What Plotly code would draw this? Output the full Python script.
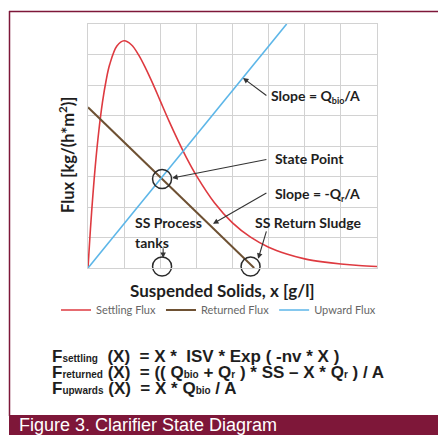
import plotly.graph_objects as go

# ---- data (grid units) ----
settling_x = [0, 0.05, 0.1, 0.2, 0.3, 0.4, 0.5, 0.6, 0.8, 1.0, 1.2, 1.4, 1.6, 1.8, 2.0,
              2.25, 2.5, 2.75, 3.0, 3.5, 4.0, 4.5, 5.0, 5.5, 6.0, 6.5, 7.0, 7.5, 8.0]
settling_y = [0, 0.96, 1.83, 3.32, 4.50, 5.43, 6.14, 6.67, 7.28, 7.45, 7.32, 6.99, 6.54, 6.03, 5.48,
              4.80, 4.16, 3.56, 3.03, 2.14, 1.48, 1.01, 0.68, 0.46, 0.30, 0.20, 0.13, 0.08, 0.05]
returned_x = [0, 4.6]
returned_y = [5.27, 0]
upward_x = [0, 5.5]
upward_y = [0, 8]
circle_x = [2.05, 2.05, 4.5]
circle_y = [2.92, 0.05, 0.05]
series_names = ["Settling Flux", "Returned Flux", "Upward Flux"]

RED = "#DE3A40"
BROWN = "#6E5133"
BLUE = "#5DB6E8"
MAROON = "#7E1739"
TXT = "#1E1E1E"

W, H = 438, 435
L, R, T, B = 88, 377, 24, 268


def px_x(p):
    return (p - L) / (R - L)


def px_y(p):
    return (B - p) / (B - T)


fig = go.Figure()
fig.add_trace(go.Scatter(x=settling_x, y=settling_y, mode="lines", name=series_names[0],
                         line=dict(color=RED, width=1.6, shape="spline")))
fig.add_trace(go.Scatter(x=returned_x, y=returned_y, mode="lines", name=series_names[1],
                         line=dict(color=BROWN, width=2)))
fig.add_trace(go.Scatter(x=upward_x, y=upward_y, mode="lines", name=series_names[2],
                         line=dict(color=BLUE, width=1.6)))
fig.add_trace(go.Scatter(x=circle_x, y=circle_y, mode="markers", showlegend=False,
                         cliponaxis=False,
                         marker=dict(symbol="circle-open", size=19, color="#2a2a2a",
                                     line=dict(width=1.5, color="#2a2a2a"))))

annos = []
font_lbl = dict(family="Lato", size=14, color=TXT)


def txt(text, x, y, size=14, xanchor="left", yanchor="middle", **kw):
    f = dict(font_lbl)
    f["size"] = size
    f.update(kw.pop("font", {}))
    annos.append(dict(text=text, x=px_x(x), y=px_y(y), xref="paper", yref="paper",
                      xanchor=xanchor, yanchor=yanchor, showarrow=False, font=f, **kw))


def arrow(hx, hy, tx, ty):
    annos.append(dict(text="", x=hx, y=hy, xref="x", yref="y", ax=tx, ay=ty,
                      axref="x", ayref="y", showarrow=True, arrowhead=2, arrowsize=1,
                      arrowwidth=1.1, arrowcolor="#333333"))


def sub(s, size=9):
    return f"<sub><span style='font-size:{size}px'>{s}</span></sub>"


def low(s, size=10):
    # small subscript-like text kept on the baseline (tight line spacing as in the figure)
    return f"<span style='font-size:{size}px'>{s}</span>"


txt("<b>Slope = Q" + sub("bio") + "/A</b>", 269, 96)
txt("<b>State Point</b>", 273, 158)
txt("<b>Slope = -Q" + sub("r") + "/A</b>", 273, 194)
txt("<b>SS Process</b>", 133, 222)
txt("<b>tanks</b>", 133, 242)
txt("<b>SS Return Sludge</b>", 253, 222)

arrow(4.29, 6.23, 4.98, 5.62)
arrow(2.33, 2.95, 4.98, 3.57)
arrow(3.46, 1.45, 4.98, 2.49)
arrow(2.08, 0.33, 2.08, 0.7)
arrow(4.71, 0.3, 4.95, 1.25)

# axis titles
txt("<b>Flux [kg/(h*m<sup>2</sup>)]</b>", 67, 155, size=16.5, xanchor="center", textangle=-90)
txt("<b>Suspended Solids, x [g/l]</b>", 222, 290, size=17, xanchor="center")

# equations
eq_font = dict(family="Liberation Sans", color=TXT)
txt("<b>F" + low("settling") + "  (X)  = X *  ISV * Exp ( -nv * X )</b>", 50, 356,
    size=17, font=eq_font)
txt("<b>F" + low("returned") + " (X)  = (( Q" + low("bio") + " + Q" + low("r")
    + " ) * SS – X * Q" + low("r") + " ) / A</b>",
    50, 372, size=17, font=eq_font)
txt("<b>F" + low("upwards") + " (X)  = X * Q" + low("bio") + " / A</b>", 50, 388,
    size=17, font=eq_font)

# caption
txt("Figure 3. Clarifier State Diagram", 17, 425, size=18,
    font=dict(family="Liberation Sans", color="white"))

shapes = [
    dict(type="line", xref="paper", yref="paper", x0=px_x(9.5), x1=px_x(9.5),
         y0=px_y(11), y1=px_y(416), line=dict(color=MAROON, width=1.5), layer="below"),
    dict(type="line", xref="paper", yref="paper", x0=px_x(9), x1=px_x(440),
         y0=px_y(11.5), y1=px_y(11.5), line=dict(color=MAROON, width=1.5), layer="below"),
    dict(type="rect", xref="paper", yref="paper", x0=px_x(9), x1=px_x(440),
         y0=px_y(415), y1=px_y(437), fillcolor=MAROON, line=dict(width=0), layer="below"),
]

axis_common = dict(range=[0, 8], dtick=1, showgrid=True, gridcolor="#D2D2D2", gridwidth=1,
                   zeroline=False, showticklabels=False, ticks="", showline=True,
                   linecolor="#D2D2D2", linewidth=1, mirror=True, fixedrange=True)

fig.update_layout(
    width=W, height=H,
    margin=dict(l=L, r=W - R, t=T, b=H - B, pad=0),
    paper_bgcolor="white", plot_bgcolor="white",
    xaxis=axis_common, yaxis=axis_common,
    annotations=annos, shapes=shapes,
    showlegend=True,
    legend=dict(orientation="h", x=px_x(56), y=px_y(310), xanchor="left", yanchor="middle",
                font=dict(family="Lato", size=11, color="#666666"), bgcolor="rgba(0,0,0,0)",
                itemwidth=30, tracegroupgap=0),
)

fig.write_html("out.html", config={"displayModeBar": False},
               post_script="document.body.style.margin='0';document.body.style.overflow='hidden';")
